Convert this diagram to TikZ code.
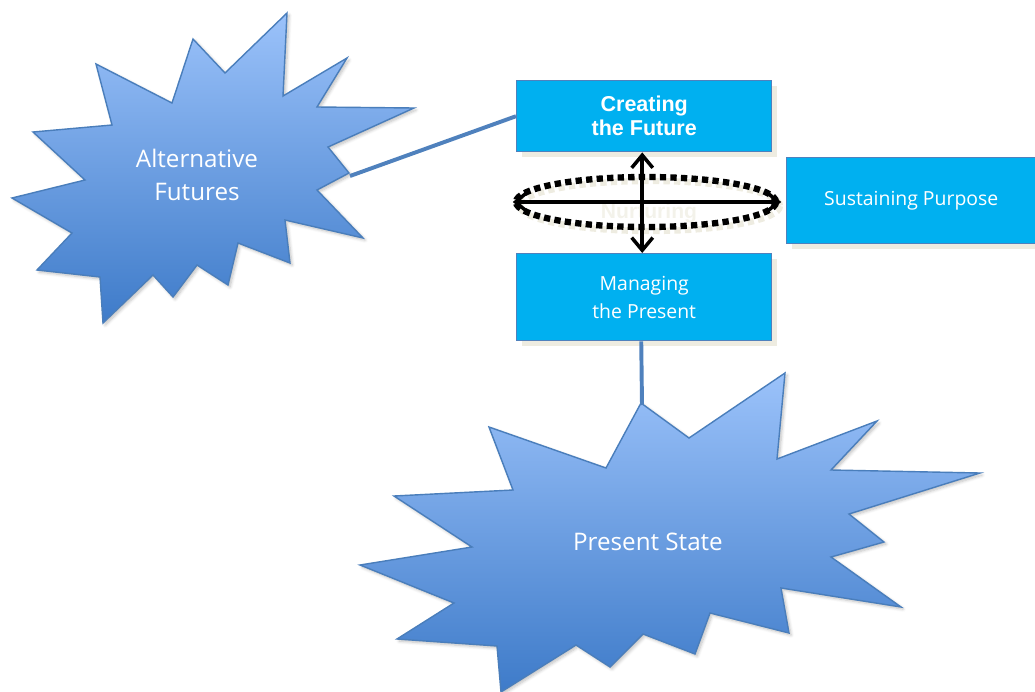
\documentclass[tikz,border=0pt]{standalone}
\usepackage{fontspec}
\setmainfont{Open Sans}
\newfontfamily\arialfont{Liberation Sans}
\usetikzlibrary{arrows.meta,shadows,shadows.blur,shapes.geometric}
\definecolor{boxfill}{RGB}{0,176,240}
\definecolor{boxline}{RGB}{79,129,189}
\definecolor{boxshade}{RGB}{238,236,225}
\definecolor{startop}{RGB}{155,194,250}
\definecolor{starbottom}{RGB}{62,123,201}
\definecolor{starline}{RGB}{74,126,187}
\tikzset{
  level/.style={draw=boxline, line width=1pt, fill=boxfill, text=white, inner sep=0pt,
    anchor=north west, align=center,
    drop shadow={shadow xshift=3.5pt, shadow yshift=-3.5pt, fill=boxshade, opacity=1}},
  burst/.style={draw=starline, line width=1pt, top color=startop, bottom color=starbottom,
    blur shadow={shadow xshift=1.5pt, shadow yshift=-1.5pt, shadow blur steps=6, shadow opacity=25}},
  bursttext/.style={text=white, align=center, font=\fontsize{17.2}{24}\selectfont},
  link/.style={draw=boxline, line width=2.8pt},
  dots/.style={line width=4.5pt, dash pattern=on 4.5pt off 3pt},
  twoway/.style={line width=2.5pt, {Straight Barb[length=9pt,width=15pt]}-{Straight Barb[length=9pt,width=15pt]}}
}
\begin{document}
\begin{tikzpicture}[x=0.025cm, y=-0.025cm]
    \useasboundingbox (0,0) rectangle (1035,692);
    \draw[burst] (287,13) -- (283,96) -- (347,58) -- (317,107) -- (414,108) -- (328,147)
      -- (349,173) -- (317,190) -- (363,238) -- (285,220) -- (290,263) -- (238,243)
      -- (228,285) -- (197,265) -- (173,297) -- (153,275) -- (103,323) -- (100,277)
      -- (37,270) -- (72,233) -- (12,198) -- (85,180) -- (33,132) -- (112,125)
      -- (96,64) -- (172,103) -- (193,39) -- (225,73) -- cycle;
    \node[bursttext] (alt) at (197,175) {Alternative\\Futures};
    \coordinate (altTip) at (350,176);
    \draw[burst] (641,403) -- (689,438) -- (785,373) -- (777,459) -- (877,421) -- (831,470)
      -- (980,473) -- (849,514) -- (884,542) -- (831,557) -- (901,607) -- (781,588)
      -- (789,633) -- (710,613) -- (695,654) -- (643,634) -- (610,667) -- (576,645)
      -- (501,692) -- (497,646) -- (397,639) -- (454,603) -- (360,565) -- (472,547)
      -- (394,496) -- (513,490) -- (489,427) -- (606,468) -- cycle;
    \node[bursttext] (present) at (648,542) {Present State};
    \coordinate (presTip) at (642,405);

    \node[level, minimum width=6.375cm, minimum height=1.775cm,
      font=\arialfont\bfseries\fontsize{15.3}{17}\selectfont] (create) at (516,80) {Creating\\the Future};
    \node[level, minimum width=6.225cm, minimum height=2.15cm,
      font=\fontsize{13.8}{20}\selectfont] (sustain) at (786,157) {Sustaining Purpose};
    \node[level, minimum width=6.375cm, minimum height=2.175cm,
      font=\fontsize{13.8}{20}\selectfont] (manage) at (516,253) {Managing\\the Present};
    \draw[link] (altTip) -- (create.west);
    \draw[link] (manage.south) ++(-3,0) -- (presTip);

    \node[text=boxshade!70!white, font=\arialfont\bfseries\fontsize{15}{17}\selectfont, anchor=base] (nurture) at (649,218) {Nurturing};
    \draw[boxshade, dots] (650,206) ellipse [x radius=130, y radius=25];
    \node[draw, dots, ellipse, minimum width=6.5cm, minimum height=1.25cm,
      inner sep=0pt] (ring) at (646,202) {};
    \draw[twoway] (create.south) ++(-2,0) -- ([xshift=-2*0.025cm]manage.north);
    \draw[twoway] (ring.west) -- ([xshift=2*0.025cm]ring.east);
\end{tikzpicture}
\end{document}
